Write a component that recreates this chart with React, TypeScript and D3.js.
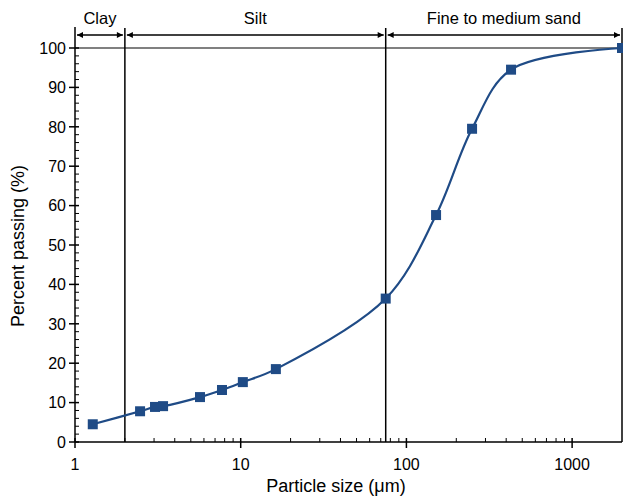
import React, { useRef, useEffect } from 'react'
import * as d3 from 'd3'

const sizes = [1.28, 2.47, 3.04, 3.4, 5.68, 7.71, 10.3, 16.3, 75, 151, 249, 428, 2000]
const passing = [4.5, 7.8, 8.9, 9.1, 11.4, 13.2, 15.2, 18.5, 36.4, 57.6, 79.5, 94.5, 100]
const xTicks = [1, 10, 100, 1000]
const yTicks = [0, 10, 20, 30, 40, 50, 60, 70, 80, 90, 100]
const bands = [
  { name: 'Clay', from: 1, to: 2 },
  { name: 'Silt', from: 2, to: 75 },
  { name: 'Fine to medium sand', from: 75, to: 2000 },
]

const W = 623
const H = 496
const BLUE = '#1f4b86'

export default function App() {
  const svgRef = useRef<SVGSVGElement>(null)

  useEffect(() => {
    const svg = d3.select(svgRef.current)
    svg.selectAll('*').remove()

    const x = d3.scaleLog().domain([1, 2000]).range([75, 622])
    const y = d3.scaleLinear().domain([0, 100]).range([442, 48])
    const font = 'Liberation Sans, Arial, sans-serif'

    svg.append('defs').append('marker')
      .attr('id', 'arr')
      .attr('viewBox', '0 0 10 10')
      .attr('refX', 10).attr('refY', 5)
      .attr('markerWidth', 10).attr('markerHeight', 6)
      .attr('markerUnits', 'userSpaceOnUse')
      .attr('orient', 'auto-start-reverse')
      .append('path').attr('d', 'M0,0L10,5L0,10Z').attr('fill', '#000')

    // 100% reference line
    svg.append('line')
      .attr('x1', x(1)).attr('x2', x(2000))
      .attr('y1', y(100)).attr('y2', y(100))
      .attr('stroke', '#808080').attr('stroke-width', 2)

    // band boundaries
    const bounds = [2, 75, 2000]
    bounds.forEach((b) => {
      svg.append('line')
        .attr('x1', x(b)).attr('x2', x(b))
        .attr('y1', 28).attr('y2', y(0))
        .attr('stroke', '#000').attr('stroke-width', 1.5)
    })

    // band arrows + labels
    const arrowY = 35
    bands.forEach((b) => {
      svg.append('line')
        .attr('x1', x(b.from) + 2).attr('x2', x(b.to) - 2)
        .attr('y1', arrowY).attr('y2', arrowY)
        .attr('stroke', '#000').attr('stroke-width', 1.3)
        .attr('marker-start', 'url(#arr)')
        .attr('marker-end', 'url(#arr)')
      svg.append('text')
        .attr('x', (x(b.from) + x(b.to)) / 2)
        .attr('y', 24)
        .attr('text-anchor', 'middle')
        .attr('font-family', font).attr('font-size', 16.5)
        .text(b.name)
    })

    // y axis
    svg.append('line')
      .attr('x1', x(1)).attr('x2', x(1))
      .attr('y1', 27).attr('y2', y(0))
      .attr('stroke', '#000').attr('stroke-width', 1.5)
    d3.range(0, 101, 2).forEach((v) => {
      const major = v % 10 === 0
      svg.append('line')
        .attr('x1', x(1) - (major ? 6 : 0)).attr('x2', x(1) + 4)
        .attr('y1', y(v)).attr('y2', y(v))
        .attr('stroke', '#000').attr('stroke-width', major ? 1.5 : 1)
    })
    yTicks.forEach((v) => {
      svg.append('text')
        .attr('x', 66).attr('y', y(v)).attr('dy', '0.36em')
        .attr('text-anchor', 'end')
        .attr('font-family', font).attr('font-size', 16)
        .text(v)
    })

    // x axis
    svg.append('line')
      .attr('x1', x(1)).attr('x2', x(2000))
      .attr('y1', y(0)).attr('y2', y(0))
      .attr('stroke', '#000').attr('stroke-width', 1.5)
    const minors: number[] = []
    ;[1, 10, 100, 1000].forEach((d) => {
      for (let m = 2; m <= 9; m++) if (d * m < 2000) minors.push(d * m)
    })
    minors.forEach((v) => {
      svg.append('line')
        .attr('x1', x(v)).attr('x2', x(v))
        .attr('y1', y(0)).attr('y2', y(0) - 4)
        .attr('stroke', '#000').attr('stroke-width', 1)
    })
    xTicks.forEach((v) => {
      svg.append('line')
        .attr('x1', x(v)).attr('x2', x(v))
        .attr('y1', y(0) - 4).attr('y2', y(0) + 6)
        .attr('stroke', '#000').attr('stroke-width', 1.5)
      svg.append('text')
        .attr('x', x(v)).attr('y', 470)
        .attr('text-anchor', 'middle')
        .attr('font-family', font).attr('font-size', 16)
        .text(v)
    })

    // axis titles
    svg.append('text')
      .attr('x', 336).attr('y', 492)
      .attr('text-anchor', 'middle')
      .attr('font-family', font).attr('font-size', 18)
      .text('Particle size (μm)')
    svg.append('text')
      .attr('transform', 'translate(24,246) rotate(-90)')
      .attr('text-anchor', 'middle')
      .attr('font-family', font).attr('font-size', 18)
      .text('Percent passing (%)')

    // curve
    const pts = sizes.map((s, i) => [s, passing[i]] as [number, number])
    const line = d3.line<[number, number]>()
      .x((d) => x(d[0]))
      .y((d) => y(d[1]))
      .curve(d3.curveCatmullRom.alpha(0.5))
    svg.append('path')
      .datum(pts)
      .attr('d', line)
      .attr('fill', 'none')
      .attr('stroke', BLUE)
      .attr('stroke-width', 2.2)

    const s = 10
    svg.selectAll('rect.pt')
      .data(pts)
      .join('rect')
      .attr('class', 'pt')
      .attr('x', (d) => x(d[0]) - s / 2)
      .attr('y', (d) => y(d[1]) - s / 2)
      .attr('width', s).attr('height', s)
      .attr('fill', BLUE)
  }, [])

  return (
    <svg
      ref={svgRef}
      width={W}
      height={H}
      style={{ position: 'absolute', left: 0, top: 0, background: '#fff' }}
    />
  )
}
